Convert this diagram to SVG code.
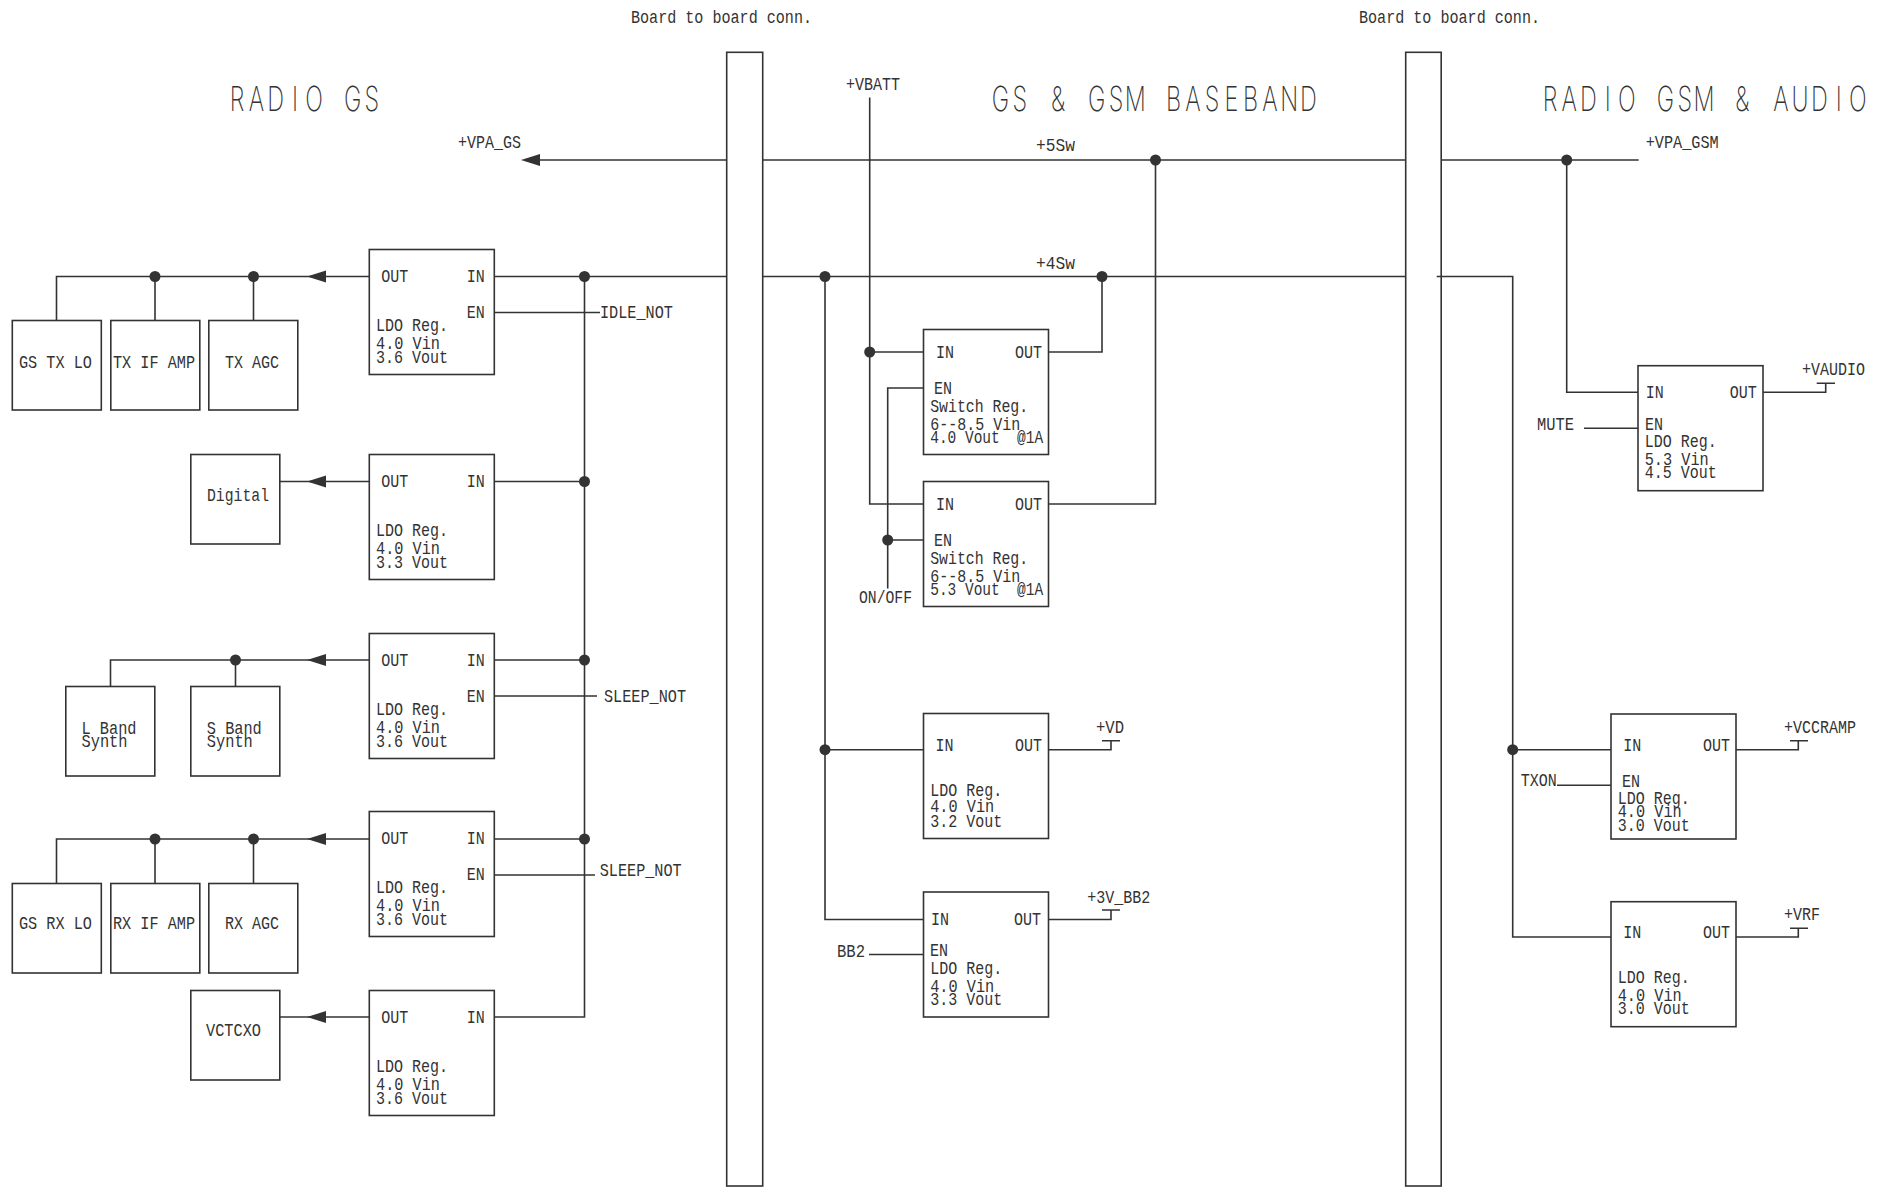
<svg xmlns="http://www.w3.org/2000/svg" width="1885" height="1187" viewBox="0 0 1885 1187">
<style>
rect{fill:#fff;stroke:#333;stroke-width:1.6}
.w{fill:none;stroke:#333;stroke-width:1.6}
text{font-family:"Liberation Mono","DejaVu Sans Mono",monospace;font-size:19px;fill:#333}
.h{font-family:"Inter","Liberation Sans",sans-serif;font-size:34.5px;font-weight:200;fill:#333;text-anchor:middle}
</style>
<defs>
<circle id="d" r="5.5" fill="#333"/>
<path id="a" d="M0 0L19 -6V6Z" fill="#333"/>
</defs>
<rect width="1885" height="1187" style="fill:#fff;stroke:none"/>
<g id="labels">
<text class="h" transform="translate(229.7 110.7) scale(.68 1)" x="11 39.3 67.6 95.9 124.2 152.5 180.8 209.1">RADIO GS</text>
<text class="h" transform="translate(993 111) scale(.68 1)" x="11 39.3 67.6 95.9 124.2 152.5 180.8 209.1 237.4 265.7 294 322.3 350.6 378.9 407.2 435.5 463.8">GS &amp; GSM BASEBAND</text>
<text class="h" transform="translate(1542.5 111) scale(.68 1)" x="11 39.3 67.6 95.9 124.2 152.5 180.8 209.1 237.4 265.7 294 322.3 350.6 378.9 407.2 435.5 463.8">RADIO GSM &amp; AUDIO</text>
<text x="631" y="22.5" textLength="181" lengthAdjust="spacingAndGlyphs">Board to board conn.</text>
<text x="1359" y="22.5" textLength="181" lengthAdjust="spacingAndGlyphs">Board to board conn.</text>
<text x="458" y="147.7" textLength="63" lengthAdjust="spacingAndGlyphs">+VPA_GS</text>
<text x="1645.7" y="147.8" textLength="73" lengthAdjust="spacingAndGlyphs">+VPA_GSM</text>
<text x="1036" y="150.7" textLength="39" lengthAdjust="spacingAndGlyphs">+5Sw</text>
<text x="1036" y="268.7" textLength="39" lengthAdjust="spacingAndGlyphs">+4Sw</text>
<text x="846" y="89.5" textLength="54" lengthAdjust="spacingAndGlyphs">+VBATT</text>
<text x="859" y="603" textLength="53" lengthAdjust="spacingAndGlyphs">ON/OFF</text>
<text x="837" y="956.5" textLength="28" lengthAdjust="spacingAndGlyphs">BB2</text>
<text x="1537" y="430" textLength="37" lengthAdjust="spacingAndGlyphs">MUTE</text>
<text x="1520.7" y="786.2" textLength="36" lengthAdjust="spacingAndGlyphs">TXON</text>
<text x="600" y="317.5" textLength="73" lengthAdjust="spacingAndGlyphs">IDLE_NOT</text>
<text x="604" y="702" textLength="82" lengthAdjust="spacingAndGlyphs">SLEEP_NOT</text>
<text x="599.7" y="876" textLength="82" lengthAdjust="spacingAndGlyphs">SLEEP_NOT</text>
<text x="1802" y="375.2" textLength="63" lengthAdjust="spacingAndGlyphs">+VAUDIO</text>
<text x="1096" y="732.8" textLength="28" lengthAdjust="spacingAndGlyphs">+VD</text>
<text x="1087.3" y="902.8" textLength="63" lengthAdjust="spacingAndGlyphs">+3V_BB2</text>
<text x="1784" y="732.5" textLength="72" lengthAdjust="spacingAndGlyphs">+VCCRAMP</text>
<text x="1784" y="920.2" textLength="36" lengthAdjust="spacingAndGlyphs">+VRF</text>
</g>
<g id="rail-1"><rect x="726.7" y="52.3" width="36" height="1133.7"/></g>
<g id="rail-2"><rect x="1405.7" y="52.3" width="35.5" height="1133.7"/></g>
<g id="connectors">
<path class="w" d="M540 160H726.7M762.7 160H1405.7M1441.2 160H1638.7"/>
<path class="w" d="M494 276.5H726.7M762.7 276.5H1405.7M1436.7 276.5H1512.7V937H1611"/>
<path class="w" d="M584.5 276.5V1017H494M494 481.5H584.5M494 660H584.5M494 839H584.5"/>
<path class="w" d="M494 312.5H600M494 696H597M494 875H595"/>
<path class="w" d="M369 276.5H56.5V320.5M155 276.5V320.5M253.5 276.5V320.5"/>
<path class="w" d="M369 481.5H280"/>
<path class="w" d="M369 660H110.5V686.5M235.5 660V686.5"/>
<path class="w" d="M369 839H56.5V883.5M155 839V883.5M253.5 839V883.5"/>
<path class="w" d="M369 1017H280"/>
<path class="w" d="M869.7 97.5V504H923.5M869.7 352H923.5"/>
<path class="w" d="M1048.5 352H1102V276.5M1048.5 504H1155.5V160"/>
<path class="w" d="M923.5 388H887.7V588.6M887.7 540H923.5"/>
<path class="w" d="M825 276.5V919.5H923.5M825 749.7H923.5"/>
<path class="w" d="M869 954.5H923.5"/>
<path class="w" d="M1048.5 749.7H1111V740.7M1102 740.7H1120"/>
<path class="w" d="M1048.5 919.5H1111V910M1102 910H1120"/>
<path class="w" d="M1566.7 160V392.3H1638M1584 428.3H1638"/>
<path class="w" d="M1763 392.3H1825.7V383.3M1816.7 383.3H1835"/>
<path class="w" d="M1512.7 749.7H1611M1557 785.3H1611"/>
<path class="w" d="M1736 749.7H1798.3V740.7M1790 740.7H1808"/>
<path class="w" d="M1736 937H1798.3V928.3M1790 928.3H1808"/>
<use href="#a" x="521" y="160"/>
<use href="#a" x="307" y="276.5"/>
<use href="#a" x="307" y="481.5"/>
<use href="#a" x="307" y="660"/>
<use href="#a" x="307" y="839"/>
<use href="#a" x="307" y="1017"/>
<use href="#d" x="1155.5" y="160"/>
<use href="#d" x="1566.7" y="160"/>
<use href="#d" x="1102" y="276.5"/>
<use href="#d" x="825" y="276.5"/>
<use href="#d" x="584.5" y="276.5"/>
<use href="#d" x="584.5" y="481.5"/>
<use href="#d" x="584.5" y="660"/>
<use href="#d" x="584.5" y="839"/>
<use href="#d" x="155" y="276.5"/>
<use href="#d" x="253.5" y="276.5"/>
<use href="#d" x="235.5" y="660"/>
<use href="#d" x="155" y="839"/>
<use href="#d" x="253.5" y="839"/>
<use href="#d" x="869.7" y="352"/>
<use href="#d" x="887.7" y="540"/>
<use href="#d" x="825" y="749.7"/>
<use href="#d" x="1512.7" y="749.7"/>
</g>
<g id="gs-tx-lo"><rect x="12.3" y="320.5" width="89" height="89.5"/><text x="19" y="367.7" textLength="73" lengthAdjust="spacingAndGlyphs">GS TX LO</text></g>
<g id="tx-if-amp"><rect x="110.8" y="320.5" width="89" height="89.5"/><text x="113" y="367.7" textLength="82" lengthAdjust="spacingAndGlyphs">TX IF AMP</text></g>
<g id="tx-agc"><rect x="208.8" y="320.5" width="89" height="89.5"/><text x="225" y="367.7" textLength="54" lengthAdjust="spacingAndGlyphs">TX AGC</text></g>
<g id="digital"><rect x="190.8" y="454.5" width="89" height="89.5"/><text x="207" y="500.7" textLength="62" lengthAdjust="spacingAndGlyphs">Digital</text></g>
<g id="l-band"><rect x="65.8" y="686.5" width="89" height="89.5"/><text x="81.5" y="733.5" textLength="55" lengthAdjust="spacingAndGlyphs">L Band</text><text x="81.5" y="746.7" textLength="46" lengthAdjust="spacingAndGlyphs">Synth</text></g>
<g id="s-band"><rect x="190.8" y="686.5" width="89" height="89.5"/><text x="206.8" y="733.5" textLength="55" lengthAdjust="spacingAndGlyphs">S Band</text><text x="206.8" y="746.7" textLength="46" lengthAdjust="spacingAndGlyphs">Synth</text></g>
<g id="gs-rx-lo"><rect x="12.3" y="883.5" width="89" height="89.5"/><text x="19" y="929" textLength="73" lengthAdjust="spacingAndGlyphs">GS RX LO</text></g>
<g id="rx-if-amp"><rect x="110.8" y="883.5" width="89" height="89.5"/><text x="113" y="929" textLength="82" lengthAdjust="spacingAndGlyphs">RX IF AMP</text></g>
<g id="rx-agc"><rect x="208.8" y="883.5" width="89" height="89.5"/><text x="225" y="929" textLength="54" lengthAdjust="spacingAndGlyphs">RX AGC</text></g>
<g id="vctcxo"><rect x="190.8" y="990.5" width="89" height="89.5"/><text x="206" y="1036.3" textLength="55" lengthAdjust="spacingAndGlyphs">VCTCXO</text></g>
<g id="ldo-1" transform="translate(369.3 249.5)"><rect width="125" height="125"/><text x="12" y="32" textLength="27" lengthAdjust="spacingAndGlyphs">OUT</text><text x="97.5" y="32" textLength="18" lengthAdjust="spacingAndGlyphs">IN</text><text x="97.5" y="68" textLength="18" lengthAdjust="spacingAndGlyphs">EN</text><text x="6.7" y="81.5" textLength="72" lengthAdjust="spacingAndGlyphs">LDO Reg.</text><text x="6.7" y="99.5" textLength="64" lengthAdjust="spacingAndGlyphs">4.0 Vin</text><text x="6.7" y="113" textLength="72" lengthAdjust="spacingAndGlyphs">3.6 Vout</text></g>
<g id="ldo-2" transform="translate(369.3 454.5)"><rect width="125" height="125"/><text x="12" y="32" textLength="27" lengthAdjust="spacingAndGlyphs">OUT</text><text x="97.5" y="32" textLength="18" lengthAdjust="spacingAndGlyphs">IN</text><text x="6.7" y="81.5" textLength="72" lengthAdjust="spacingAndGlyphs">LDO Reg.</text><text x="6.7" y="99.5" textLength="64" lengthAdjust="spacingAndGlyphs">4.0 Vin</text><text x="6.7" y="113" textLength="72" lengthAdjust="spacingAndGlyphs">3.3 Vout</text></g>
<g id="ldo-3" transform="translate(369.3 633.5)"><rect width="125" height="125"/><text x="12" y="32" textLength="27" lengthAdjust="spacingAndGlyphs">OUT</text><text x="97.5" y="32" textLength="18" lengthAdjust="spacingAndGlyphs">IN</text><text x="97.5" y="68" textLength="18" lengthAdjust="spacingAndGlyphs">EN</text><text x="6.7" y="81.5" textLength="72" lengthAdjust="spacingAndGlyphs">LDO Reg.</text><text x="6.7" y="99.5" textLength="64" lengthAdjust="spacingAndGlyphs">4.0 Vin</text><text x="6.7" y="113" textLength="72" lengthAdjust="spacingAndGlyphs">3.6 Vout</text></g>
<g id="ldo-4" transform="translate(369.3 811.5)"><rect width="125" height="125"/><text x="12" y="32" textLength="27" lengthAdjust="spacingAndGlyphs">OUT</text><text x="97.5" y="32" textLength="18" lengthAdjust="spacingAndGlyphs">IN</text><text x="97.5" y="68" textLength="18" lengthAdjust="spacingAndGlyphs">EN</text><text x="6.7" y="81.5" textLength="72" lengthAdjust="spacingAndGlyphs">LDO Reg.</text><text x="6.7" y="99.5" textLength="64" lengthAdjust="spacingAndGlyphs">4.0 Vin</text><text x="6.7" y="113" textLength="72" lengthAdjust="spacingAndGlyphs">3.6 Vout</text></g>
<g id="ldo-5" transform="translate(369.3 990.5)"><rect width="125" height="125"/><text x="12" y="32" textLength="27" lengthAdjust="spacingAndGlyphs">OUT</text><text x="97.5" y="32" textLength="18" lengthAdjust="spacingAndGlyphs">IN</text><text x="6.7" y="81.5" textLength="72" lengthAdjust="spacingAndGlyphs">LDO Reg.</text><text x="6.7" y="99.5" textLength="64" lengthAdjust="spacingAndGlyphs">4.0 Vin</text><text x="6.7" y="113" textLength="72" lengthAdjust="spacingAndGlyphs">3.6 Vout</text></g>
<g id="switch-1" transform="translate(923.5 329.5)"><rect width="125" height="125"/><text x="12.5" y="28" textLength="18" lengthAdjust="spacingAndGlyphs">IN</text><text x="91.5" y="28" textLength="27" lengthAdjust="spacingAndGlyphs">OUT</text><text x="10.5" y="64" textLength="18" lengthAdjust="spacingAndGlyphs">EN</text><text x="6.7" y="82" textLength="98" lengthAdjust="spacingAndGlyphs">Switch Reg.</text><text x="6.7" y="100" textLength="90" lengthAdjust="spacingAndGlyphs">6--8.5 Vin</text><text x="6.7" y="113.5" xml:space="preserve" textLength="113" lengthAdjust="spacingAndGlyphs">4.0 Vout  @1A</text></g>
<g id="switch-2" transform="translate(923.5 481.5)"><rect width="125" height="125"/><text x="12.5" y="28" textLength="18" lengthAdjust="spacingAndGlyphs">IN</text><text x="91.5" y="28" textLength="27" lengthAdjust="spacingAndGlyphs">OUT</text><text x="10.5" y="64" textLength="18" lengthAdjust="spacingAndGlyphs">EN</text><text x="6.7" y="82" textLength="98" lengthAdjust="spacingAndGlyphs">Switch Reg.</text><text x="6.7" y="100" textLength="90" lengthAdjust="spacingAndGlyphs">6--8.5 Vin</text><text x="6.7" y="113.5" xml:space="preserve" textLength="113" lengthAdjust="spacingAndGlyphs">5.3 Vout  @1A</text></g>
<g id="ldo-vd" transform="translate(923.5 713.5)"><rect width="125" height="125"/><text x="12" y="37.5" textLength="18" lengthAdjust="spacingAndGlyphs">IN</text><text x="91.5" y="37.5" textLength="27" lengthAdjust="spacingAndGlyphs">OUT</text><text x="6.7" y="82.5" textLength="72" lengthAdjust="spacingAndGlyphs">LDO Reg.</text><text x="6.7" y="98.5" textLength="64" lengthAdjust="spacingAndGlyphs">4.0 Vin</text><text x="6.7" y="113" textLength="72" lengthAdjust="spacingAndGlyphs">3.2 Vout</text></g>
<g id="ldo-bb2" transform="translate(923.5 892)"><rect width="125" height="125"/><text x="7.5" y="32.5" textLength="18" lengthAdjust="spacingAndGlyphs">IN</text><text x="90.5" y="32.5" textLength="27" lengthAdjust="spacingAndGlyphs">OUT</text><text x="6.5" y="64" textLength="18" lengthAdjust="spacingAndGlyphs">EN</text><text x="6.7" y="82" textLength="72" lengthAdjust="spacingAndGlyphs">LDO Reg.</text><text x="6.7" y="100" textLength="64" lengthAdjust="spacingAndGlyphs">4.0 Vin</text><text x="6.7" y="113" textLength="72" lengthAdjust="spacingAndGlyphs">3.3 Vout</text></g>
<g id="ldo-audio" transform="translate(1638 365.7)"><rect width="125" height="125"/><text x="7.7" y="32" textLength="18" lengthAdjust="spacingAndGlyphs">IN</text><text x="91.7" y="32" textLength="27" lengthAdjust="spacingAndGlyphs">OUT</text><text x="7" y="64.5" textLength="18" lengthAdjust="spacingAndGlyphs">EN</text><text x="6.7" y="81.5" textLength="72" lengthAdjust="spacingAndGlyphs">LDO Reg.</text><text x="6.7" y="99.7" textLength="64" lengthAdjust="spacingAndGlyphs">5.3 Vin</text><text x="6.7" y="112.6" textLength="72" lengthAdjust="spacingAndGlyphs">4.5 Vout</text></g>
<g id="ldo-vccramp" transform="translate(1611 714)"><rect width="125" height="125"/><text x="12.3" y="37" textLength="18" lengthAdjust="spacingAndGlyphs">IN</text><text x="92" y="37" textLength="27" lengthAdjust="spacingAndGlyphs">OUT</text><text x="11" y="72.8" textLength="18" lengthAdjust="spacingAndGlyphs">EN</text><text x="6.7" y="90" textLength="72" lengthAdjust="spacingAndGlyphs">LDO Reg.</text><text x="6.7" y="103" textLength="64" lengthAdjust="spacingAndGlyphs">4.0 Vin</text><text x="6.7" y="116.5" textLength="72" lengthAdjust="spacingAndGlyphs">3.0 Vout</text></g>
<g id="ldo-vrf" transform="translate(1611 901.7)"><rect width="125" height="125"/><text x="12.3" y="36.5" textLength="18" lengthAdjust="spacingAndGlyphs">IN</text><text x="92" y="36.5" textLength="27" lengthAdjust="spacingAndGlyphs">OUT</text><text x="6.7" y="81.3" textLength="72" lengthAdjust="spacingAndGlyphs">LDO Reg.</text><text x="6.7" y="99" textLength="64" lengthAdjust="spacingAndGlyphs">4.0 Vin</text><text x="6.7" y="112.3" textLength="72" lengthAdjust="spacingAndGlyphs">3.0 Vout</text></g>
</svg>
